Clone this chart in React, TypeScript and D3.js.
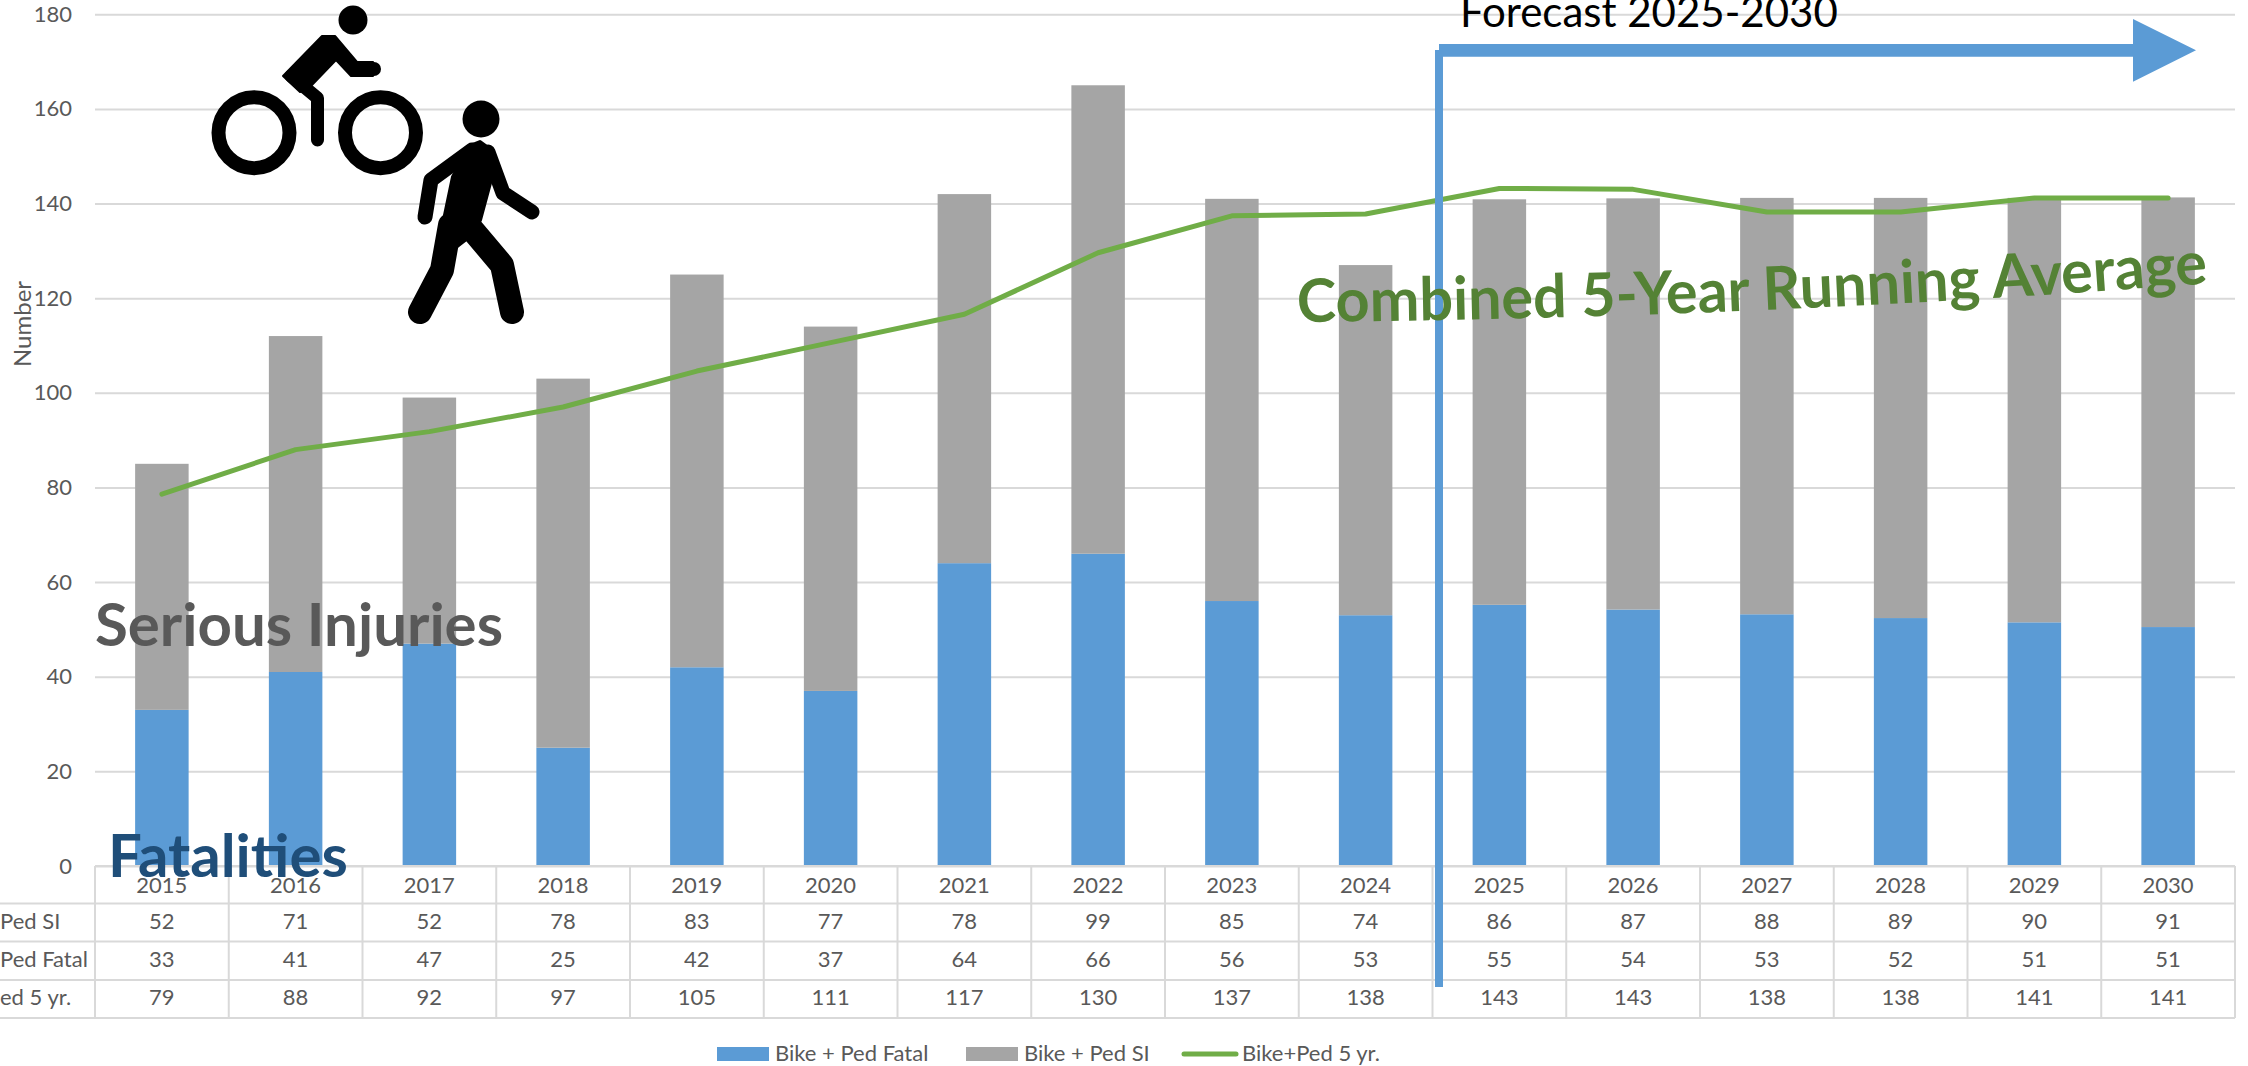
import { useEffect, useRef } from "react";
import * as d3 from "d3";

const years = [2015, 2016, 2017, 2018, 2019, 2020, 2021, 2022, 2023, 2024, 2025, 2026, 2027, 2028, 2029, 2030];
// bar heights (forecast years carry decimals, the table shows them rounded)
const fatalValues = [33, 41, 47, 25, 42, 37, 64, 66, 56, 53, 55.2, 54.2, 53.2, 52.4, 51.5, 50.5];
const siValues = [52, 71, 52, 78, 83, 77, 78, 99, 85, 74, 85.7, 86.9, 88, 88.8, 89.7, 90.8];
const avgValues = [78.6, 88, 91.8, 97, 104.6, 110.6, 116.6, 129.6, 137.4, 137.8, 143.2, 143, 138.2, 138.2, 141.2, 141.2];
// table labels
const siLabels = [52, 71, 52, 78, 83, 77, 78, 99, 85, 74, 86, 87, 88, 89, 90, 91];
const fatalLabels = [33, 41, 47, 25, 42, 37, 64, 66, 56, 53, 55, 54, 53, 52, 51, 51];
const avgLabels = [79, 88, 92, 97, 105, 111, 117, 130, 137, 138, 143, 143, 138, 138, 141, 141];
const rowNames = ["Ped SI", "Ped Fatal", "ed 5 yr."];
const yTicks = [0, 20, 40, 60, 80, 100, 120, 140, 160, 180];

const WIDTH = 2248;
const HEIGHT = 1066;
const FONT = "Lato, 'Open Sans', sans-serif";
const BLUE = "#5b9bd5";
const GRAY = "#a5a5a5";
const GREEN = "#70ad47";
const TEXT = "#595959";
const GRID = "#d9d9d9";

export default function App() {
  const ref = useRef<SVGSVGElement>(null);

  useEffect(() => {
    const svg = d3.select(ref.current!);
    svg.selectAll("*").remove();
    svg.style("font-variant-ligatures", "none");

    const left = 95;
    const right = 2235;
    const y = d3.scaleLinear().domain([0, 180]).range([866, 14.3]);
    const x = d3.scaleBand<number>().domain(years).range([left, right]).paddingInner(0.6).paddingOuter(0.3);
    const col = d3.scaleBand<number>().domain(years).range([left, right]);
    const rowLines = [903.5, 941.5, 980, 1018];

    // gridlines and y axis
    const axis = svg
      .append("g")
      .attr("transform", `translate(${left},0)`)
      .call(d3.axisLeft(y).tickValues(yTicks).tickSize(-(right - left)).tickPadding(23));
    axis.select(".domain").remove();
    axis.selectAll("line").attr("stroke", GRID).attr("stroke-width", 2);
    axis.selectAll("text").attr("fill", TEXT).style("font", `22px ${FONT}`);

    svg
      .append("text")
      .attr("transform", "translate(31,324) rotate(-90)")
      .attr("text-anchor", "middle")
      .attr("fill", TEXT)
      .style("font", `24px ${FONT}`)
      .text("Number");

    // stacked bars
    svg
      .append("g")
      .selectAll("rect")
      .data(years)
      .join("rect")
      .attr("x", (d) => x(d)!)
      .attr("width", x.bandwidth())
      .attr("y", (_, i) => y(fatalValues[i]))
      .attr("height", (_, i) => y(0) - y(fatalValues[i]))
      .attr("fill", BLUE);
    svg
      .append("g")
      .selectAll("rect")
      .data(years)
      .join("rect")
      .attr("x", (d) => x(d)!)
      .attr("width", x.bandwidth())
      .attr("y", (_, i) => y(fatalValues[i] + siValues[i]))
      .attr("height", (_, i) => y(0) - y(siValues[i]))
      .attr("fill", GRAY);

    // data table grid
    const table = svg.append("g").attr("stroke", GRID).attr("stroke-width", 2);
    table.append("line").attr("x1", left).attr("x2", right).attr("y1", 866).attr("y2", 866);
    rowLines.forEach((ly) => {
      table.append("line").attr("x1", 0).attr("x2", right).attr("y1", ly).attr("y2", ly);
    });
    [...years, null].forEach((yr) => {
      const lx = yr === null ? right : col(yr)!;
      table.append("line").attr("x1", lx).attr("x2", lx).attr("y1", 866).attr("y2", 1018);
    });

    const rows: number[][] = [years, siLabels, fatalLabels, avgLabels];
    const baselines = [893, 929, 967, 1005];
    rows.forEach((row, r) => {
      svg
        .append("g")
        .selectAll("text")
        .data(row)
        .join("text")
        .attr("x", (_, i) => col(years[i])! + col.bandwidth() / 2)
        .attr("y", baselines[r])
        .attr("text-anchor", "middle")
        .attr("fill", TEXT)
        .style("font", `22px ${FONT}`)
        .text((d) => d);
    });
    rowNames.forEach((name, i) => {
      svg
        .append("text")
        .attr("x", 0)
        .attr("y", baselines[i + 1])
        .attr("fill", TEXT)
        .style("font", `22px ${FONT}`)
        .text(name);
    });

    // running average line
    const line = d3
      .line<number>()
      .x((_, i) => x(years[i])! + x.bandwidth() / 2)
      .y((d) => y(d));
    svg
      .append("path")
      .attr("d", line(avgValues))
      .attr("fill", "none")
      .attr("stroke", GREEN)
      .attr("stroke-width", 5)
      .attr("stroke-linecap", "round")
      .attr("stroke-linejoin", "round");

    // forecast arrow
    svg.append("path").attr("d", "M1439,44H2133V19L2196,50.3L2133,81.7V56.7H1439Z").attr("fill", BLUE);
    svg.append("rect").attr("x", 1435).attr("y", 50).attr("width", 8).attr("height", 937).attr("fill", BLUE);
    svg
      .append("text")
      .attr("x", 1460)
      .attr("y", 27)
      .attr("fill", "#000")
      .style("font", `42px ${FONT}`)
      .text("Forecast 2025-2030");

    // annotations
    svg
      .append("text")
      .attr("x", 95)
      .attr("y", 646)
      .attr("fill", TEXT)
      .style("font", `bold 60px ${FONT}`)
      .text("Serious Injuries");
    svg
      .append("text")
      .attr("x", 108)
      .attr("y", 877)
      .attr("fill", "#1f4e79")
      .style("font", `bold 60px ${FONT}`)
      .text("Fatalities");

    svg
      .append("path")
      .attr("id", "avgArc")
      .attr("d", "M1297,322Q1760,318 2212,283")
      .attr("fill", "none");
    svg
      .append("text")
      .attr("fill", "#548235")
      .style("font", `bold 60px ${FONT}`)
      .append("textPath")
      .attr("href", "#avgArc")
      .attr("textLength", 912)
      .attr("lengthAdjust", "spacingAndGlyphs")
      .text("Combined 5-Year Running Average");

    // cyclist icon
    const icons = svg.append("g");
    icons.append("circle").attr("cx", 353).attr("cy", 20).attr("r", 14.5);
    [254, 380.5].forEach((cx) => {
      icons
        .append("circle")
        .attr("cx", cx)
        .attr("cy", 132.7)
        .attr("r", 35.5)
        .attr("fill", "none")
        .attr("stroke", "#000")
        .attr("stroke-width", 14);
    });
    const limb = (d: string, w: number) =>
      icons
        .append("path")
        .attr("d", d)
        .attr("fill", "none")
        .attr("stroke", "#000")
        .attr("stroke-width", w)
        .attr("stroke-linecap", "round")
        .attr("stroke-linejoin", "round");
    limb("M317.5,140V98L291,76", 13);
    icons
      .append("path")
      .attr("d", "M283,76L322,36H335L357,62H373V76H351L336,60L311,86L300,92Z")
      .attr("stroke", "#000")
      .attr("stroke-width", 2)
      .attr("stroke-linejoin", "round");
    limb("M354,69H374", 14);

    // pedestrian icon
    icons.append("circle").attr("cx", 481).attr("cy", 119).attr("r", 18.5);
    icons
      .append("path")
      .attr("d", "M470,146L480,142L491,150L490,183L480,220L465,240L435,263L453,177Z")
      .attr("stroke", "#000")
      .attr("stroke-width", 4)
      .attr("stroke-linejoin", "round");
    limb("M472,150L431,180L425,217", 15);
    limb("M488,152L503,193L532,212", 15);
    limb("M450,225L442,270L420,312", 24);
    limb("M470,227L502,265L512,312", 24);

    // legend
    const legend = svg.append("g").style("font", `22px ${FONT}`).attr("fill", TEXT);
    legend.append("rect").attr("x", 717).attr("y", 1047).attr("width", 52).attr("height", 14).attr("fill", BLUE);
    legend.append("text").attr("x", 775).attr("y", 1061).text("Bike + Ped Fatal");
    legend.append("rect").attr("x", 966).attr("y", 1047).attr("width", 52).attr("height", 14).attr("fill", GRAY);
    legend.append("text").attr("x", 1024).attr("y", 1061).text("Bike + Ped SI");
    legend
      .append("line")
      .attr("x1", 1184)
      .attr("x2", 1236)
      .attr("y1", 1054)
      .attr("y2", 1054)
      .attr("stroke", GREEN)
      .attr("stroke-width", 5)
      .attr("stroke-linecap", "round");
    legend.append("text").attr("x", 1242).attr("y", 1061).text("Bike+Ped 5 yr.");
  }, []);

  return (
    <svg
      ref={ref}
      width={WIDTH}
      height={HEIGHT}
      style={{ position: "absolute", top: 0, left: 0, background: "#fff" }}
    />
  );
}
